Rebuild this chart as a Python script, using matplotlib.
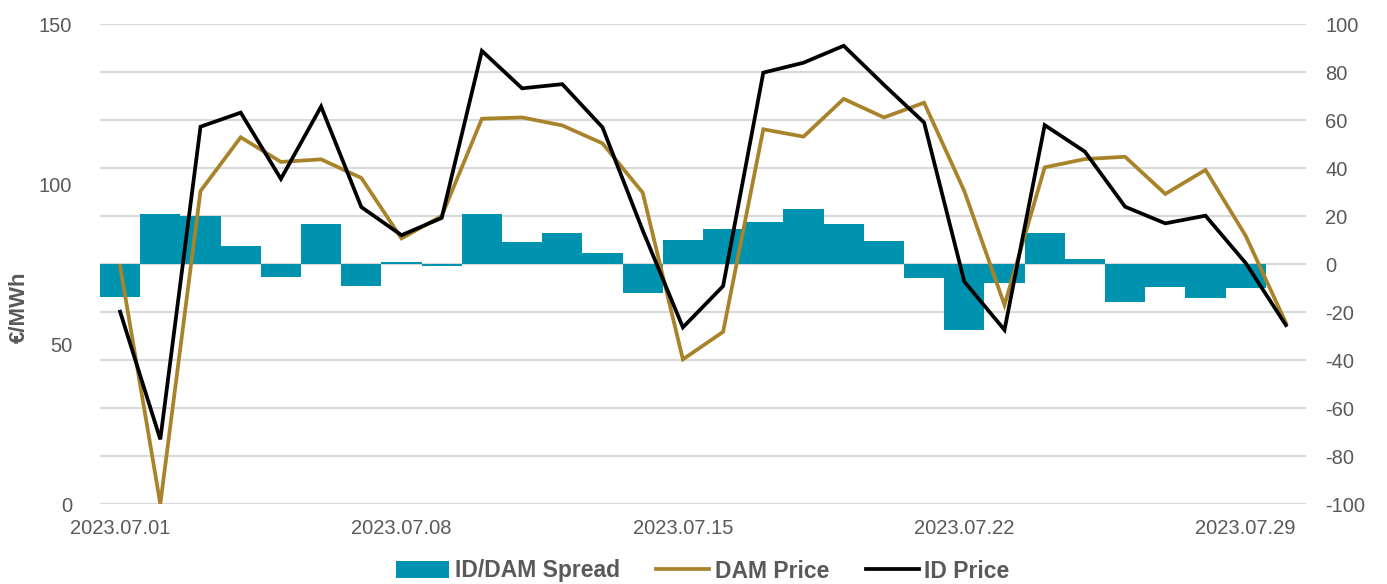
import numpy as np
import matplotlib
matplotlib.use("Agg")
import matplotlib.pyplot as plt
from matplotlib.patches import Patch
from matplotlib.lines import Line2D

plt.rcParams["font.family"] = ["Liberation Sans", "DejaVu Sans"]
plt.rcParams["axes.unicode_minus"] = False

# ── data (daily, July 2023) ─────────────────────────────
day_labels = [f"2023.07.{d:02d}" for d in range(1, 31)]

dam_price = [74.4, 0.0, 97.8, 114.6, 106.9, 107.7, 101.9, 83.0, 90.0, 120.4,
             120.8, 118.3, 112.7, 97.3, 45.2, 53.8, 117.1, 114.8, 126.6, 120.8,
             125.4, 97.8, 62.2, 105.2, 107.8, 108.5, 96.9, 104.4, 83.8, 56.6]

id_price = [60.1, 20.2, 117.9, 122.3, 101.6, 124.2, 92.8, 84.0, 89.4, 141.6,
            129.9, 131.2, 117.7, 85.5, 55.2, 68.1, 134.8, 137.9, 143.2, 131.0,
            119.2, 69.5, 54.4, 118.4, 110.1, 92.9, 87.7, 90.1, 75.3, 55.9]

spread = [-13.6, 20.8, 20.0, 7.5, -5.3, 16.7, -9.0, 1.0, -0.7, 21.0,
          9.0, 12.8, 4.7, -12.0, 10.0, 14.4, 17.6, 22.8, 16.7, 9.6,
          -6.0, -27.5, -7.8, 13.0, 2.0, -15.7, -9.6, -14.3, -9.9, 0.0]

tick_days = [1, 8, 15, 22, 29]

# ── style ───────────────────────────────────────────────
C_BAR  = "#0093B0"
C_DAM  = "#A8832A"
C_ID   = "#000000"
C_TXT  = "#595959"
C_GRID = "#D9D9D9"

x = np.arange(1, len(day_labels) + 1)

fig = plt.figure(figsize=(13.87, 5.84), dpi=100)
ax2 = fig.add_axes([100 / 1387, 1 - 504 / 584, 1206 / 1387, 480 / 584])
ax = ax2.twinx()
ax.yaxis.tick_left()
ax2.yaxis.tick_right()
ax.set_zorder(ax2.get_zorder() + 1)
ax.patch.set_visible(False)

# spread bars on right axis
ax2.bar(x, spread, width=1.0, color=C_BAR, edgecolor="none", zorder=2)
ax2.set_ylim(-100, 100)
ax2.set_yticks(np.arange(-100, 101, 20))
ax2.yaxis.grid(True, color=C_GRID, lw=1.5, zorder=0)
ax2.set_axisbelow(True)

# prices on left axis
ax.plot(x, dam_price, color=C_DAM, lw=2.7, solid_joinstyle="miter")
ax.plot(x, id_price, color=C_ID, lw=2.7, solid_joinstyle="miter")
ax.set_ylim(0, 150)
ax.set_yticks([0, 50, 100, 150])
ax.set_ylabel("€/MWh", color=C_TXT, fontsize=16, fontweight="bold")
ax.yaxis.set_label_position("left")
ax.yaxis.set_label_coords(-0.058, 0.41)

ax2.set_xlim(0.5, len(x) + 0.5)
ax2.set_xticks(tick_days)
ax2.set_xticklabels([day_labels[d - 1] for d in tick_days])

for a in (ax, ax2):
    for s in a.spines.values():
        s.set_visible(False)
ax.tick_params(axis="y", length=0, pad=20, labelsize=14.5, labelcolor=C_TXT)
ax2.tick_params(axis="y", length=0, pad=14, labelsize=14.5, labelcolor=C_TXT)
ax2.tick_params(axis="x", length=0, pad=11, labelsize=14.5, labelcolor=C_TXT)

handles = [
    Patch(facecolor=C_BAR, edgecolor="none"),
    Line2D([], [], color=C_DAM, lw=2.7),
    Line2D([], [], color=C_ID, lw=2.7),
]
leg = fig.legend(handles, ["ID/DAM Spread", "DAM Price", "ID Price"],
                 loc="center", bbox_to_anchor=(703 / 1387, 1 - 571 / 584),
                 ncol=3, frameon=False, handlelength=2.3, handletextpad=0.25,
                 columnspacing=1.6, borderpad=0,
                 prop={"size": 16.5, "weight": "bold"})
for t in leg.get_texts():
    t.set_color(C_TXT)

fig.savefig("out.png", dpi=100)
